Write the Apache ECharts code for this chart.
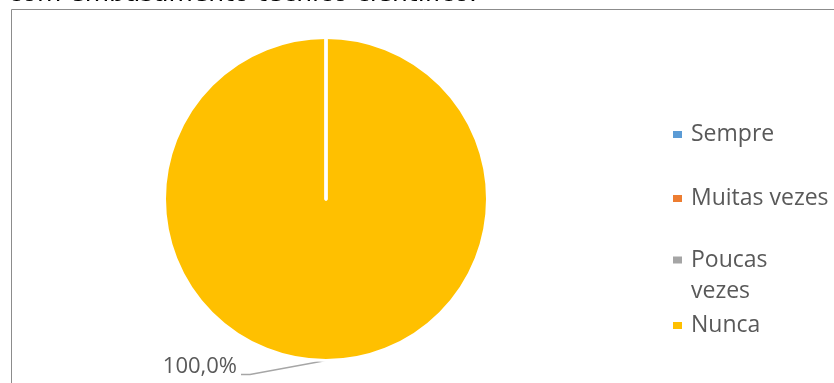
<!DOCTYPE html>
<html>
<head>
<meta charset="utf-8">
<script src="https://cdn.jsdelivr.net/npm/echarts@6/dist/echarts.min.js"></script>
<style>
  html, body { margin: 0; padding: 0; background: #fff; }
  #chart { width: 834px; height: 383px; }
</style>
</head>
<body>
<div id="chart"></div>
<script>
// Answer categories and their shares (percent of responses)
const categories = ['Sempre', 'Muitas vezes', 'Poucas vezes', 'Nunca'];
const values = [0, 0, 0, 100];
const colors = ['#5B9BD5', '#ED7D31', '#A5A5A5', '#FFC000'];
const titleText = 'com embasamento técnico científico.';

const chart = echarts.init(document.getElementById('chart'), null, { renderer: 'canvas' });

const legendText = { color: '#595959', fontFamily: 'Open Sans', fontSize: 23, lineHeight: 31, padding: [0, 0, 0, 3] };
const legendTops = [114, 178, 208.5, 305];

// One legend block per entry so each row keeps its own vertical slot;
// the two-line entry gets a leading blank line so its first line sits beside the swatch.
const legends = categories.map((name, i) => ({
  data: [name],
  orient: 'vertical',
  left: 666,
  top: legendTops[i],
  itemWidth: 11,
  itemHeight: 9,
  icon: 'rect',
  selectedMode: false,
  formatter: n => n === 'Poucas vezes' ? '\nPoucas\nvezes' : n,
  textStyle: legendText
}));

// Nunca is drawn first so the zero-width slices (and their white edges) paint over it
const order = [3, 0, 1, 2];

chart.setOption({
  animation: false,
  title: {
    text: titleText,
    left: 3,
    top: -23,
    textStyle: { fontFamily: 'DejaVu Sans', fontSize: 25, fontWeight: 'normal', color: '#000' }
  },
  graphic: [{
    type: 'rect',
    silent: true,
    shape: { x: 11.5, y: 9.5, width: 1000, height: 1000 },
    style: { fill: 'none', stroke: '#8c8c8c', lineWidth: 1 }
  }],
  legend: legends,
  series: [{
    type: 'pie',
    center: [326, 199],
    radius: 161.5,
    startAngle: 90,
    clockwise: true,
    avoidLabelOverlap: false,
    itemStyle: { borderColor: '#fff', borderWidth: 3 },
    label: {
      show: true,
      position: 'outside',
      color: '#595959',
      fontFamily: 'Open Sans',
      fontSize: 22,
      formatter: p => p.percent.toFixed(1).replace('.', ',') + '%'
    },
    labelLine: { show: true, lineStyle: { color: '#a6a6a6', width: 1.3 } },
    labelLayout: function (p) {
      if (p.dataIndex !== 0 || !p.labelLinePoints) return;
      const s = p.labelLinePoints[0];
      const ex = s[0] - 76, ey = s[1] + 14;
      return {
        x: ex - 13,
        y: ey - 8,
        align: 'right',
        verticalAlign: 'middle',
        labelLinePoints: [s, [ex, ey], [ex - 9, ey]]
      };
    },
    emphasis: { disabled: true },
    data: order.map(i => ({
      name: categories[i],
      value: values[i],
      itemStyle: { color: colors[i] },
      label: { show: values[i] > 0 },
      labelLine: { show: values[i] > 0 }
    }))
  }]
});
</script>
</body>
</html>
